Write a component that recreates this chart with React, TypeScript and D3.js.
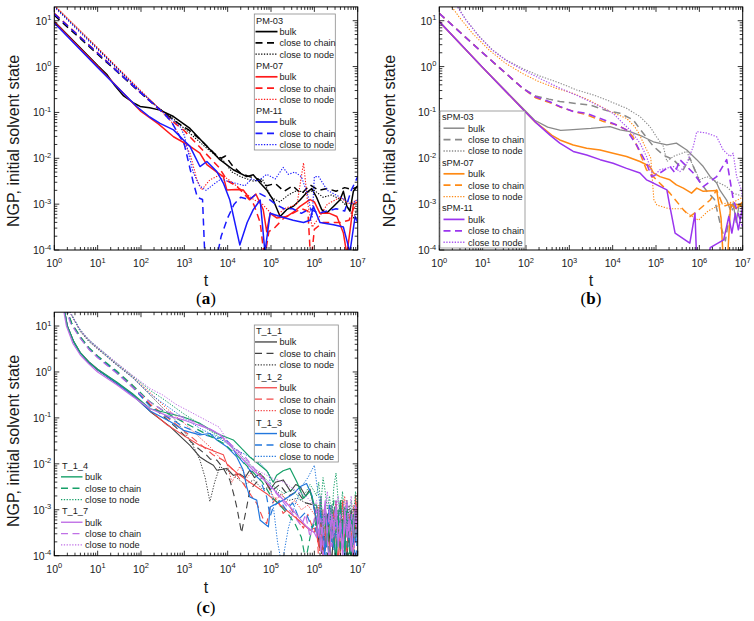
import React from 'react';
import * as d3 from 'd3';

type Pt = [number, number]; // [log10 t, log10 NGP]

// ---------------- Panel (a) ----------------
const PM03_bulk: Pt[] = [[0,0.98],[1.0,0.02],[1.22,-0.18],[1.4,-0.42],[1.6,-0.64],[1.84,-0.8],[1.98,-0.87],[2.2,-0.9],[2.44,-0.95],[2.75,-1.09],[3.13,-1.35],[3.52,-1.74],[3.82,-2.03],[4.13,-2.25],[4.44,-2.4],[4.59,-2.36],[4.75,-2.54],[4.9,-2.69],[5.05,-2.91],[5.21,-3.27],[5.36,-3.12],[5.51,-3.05],[5.67,-2.91],[5.82,-2.75],[5.94,-2.66],[6.05,-2.85],[6.17,-3.12],[6.28,-3.2],[6.44,-3.05],[6.59,-2.91],[6.67,-2.72],[6.75,-3.05],[6.82,-3.15],[6.9,-2.72],[7.0,-2.6]];
const PM03_chain: Pt[] = [[0,1.12],[1.0,0.27],[2.0,-0.58],[2.5,-0.98],[2.8,-1.2],[3.1,-1.38],[3.4,-1.62],[3.7,-1.9],[3.85,-2.0],[3.95,-1.95],[4.1,-2.15],[4.3,-2.33],[4.5,-2.4],[4.7,-2.45],[4.9,-2.6],[5.1,-2.55],[5.3,-2.72],[5.5,-2.6],[5.7,-2.78],[5.9,-2.58],[6.1,-2.7],[6.3,-2.66],[6.5,-2.72],[6.7,-2.64],[6.85,-2.68],[7.0,-2.62]];
const PM03_node: Pt[] = [[0,1.32],[1.0,0.39],[2.0,-0.55],[2.4,-0.9],[2.7,-1.1],[3.0,-1.35],[3.3,-1.6],[3.6,-1.85],[3.9,-2.05],[4.1,-2.3],[4.3,-2.4],[4.6,-2.5],[4.8,-2.45],[5.0,-2.85],[5.2,-2.95],[5.4,-2.8],[5.6,-2.7],[5.8,-2.75],[6.0,-2.7],[6.2,-2.85],[6.4,-2.8],[6.6,-2.9],[6.8,-3.1],[6.9,-3.3],[7.0,-3.1]];
const PM07_bulk: Pt[] = [[0,0.97],[1.0,0.0],[2.0,-0.98],[2.4,-1.25],[2.75,-1.53],[3.1,-1.72],[3.36,-1.89],[3.52,-2.14],[3.75,-2.3],[3.9,-2.4],[3.98,-2.69],[4.2,-2.68],[4.36,-2.69],[4.52,-2.9],[4.65,-2.78],[4.82,-3.12],[4.9,-3.6],[4.98,-3.2],[5.13,-3.3],[5.36,-3.27],[5.55,-3.15],[5.67,-3.05],[5.9,-2.9],[6.0,-2.95],[6.13,-3.2],[6.35,-3.2],[6.52,-3.27],[6.67,-3.63],[6.75,-4.1],[6.82,-3.6],[6.9,-3.0],[7.0,-2.95]];
const PM07_chain: Pt[] = [[0,1.16],[1.0,0.3],[2.0,-0.58],[2.5,-1.0],[2.8,-1.25],[3.0,-1.4],[3.3,-1.7],[3.6,-2.0],[3.8,-2.2],[4.0,-2.5],[4.2,-2.6],[4.4,-2.8],[4.6,-3.0],[4.75,-3.4],[4.85,-4.2],[4.95,-3.6],[5.1,-3.5],[5.3,-3.3],[5.5,-3.2],[5.7,-3.1],[5.85,-3.15],[5.92,-4.3],[6.0,-3.55],[6.2,-3.4],[6.4,-3.4],[6.6,-3.4],[6.8,-3.35],[6.9,-3.1],[7.0,-3.0]];
const PM07_node: Pt[] = [[0,1.34],[1.0,0.41],[2.0,-0.53],[2.4,-0.9],[2.7,-1.2],[2.9,-1.53],[3.13,-1.89],[3.29,-2.47],[3.4,-2.69],[3.59,-2.47],[3.82,-2.36],[4.0,-2.45],[4.2,-2.6],[4.4,-2.75],[4.6,-2.9],[4.8,-3.0],[5.0,-3.2],[5.13,-3.27],[5.3,-3.1],[5.45,-3.05],[5.6,-3.0],[5.75,-2.1],[5.85,-3.0],[5.95,-3.5],[6.1,-3.3],[6.3,-3.0],[6.5,-2.9],[6.6,-2.85],[6.8,-3.0],[7.0,-2.9]];
const PM11_bulk: Pt[] = [[0,0.95],[1.0,-0.02],[1.9,-0.87],[2.2,-1.1],[2.44,-1.24],[2.75,-1.38],[2.98,-1.6],[3.13,-1.74],[3.36,-2.18],[3.52,-2.07],[3.75,-2.29],[3.9,-2.54],[4.05,-2.91],[4.28,-3.89],[4.45,-3.4],[4.59,-3.12],[4.75,-2.91],[4.86,-4.05],[4.98,-3.2],[5.21,-3.27],[5.51,-3.35],[5.75,-3.4],[5.9,-3.35],[5.98,-3.05],[6.13,-3.4],[6.44,-3.45],[6.67,-3.5],[6.82,-4.05],[6.94,-3.27],[7.0,-3.4]];
const PM11_chain: Pt[] = [[0,1.15],[1.0,0.29],[2.0,-0.58],[2.5,-1.0],[2.7,-1.2],[2.85,-1.45],[3.0,-1.7],[3.1,-2.1],[3.2,-2.5],[3.3,-2.85],[3.42,-2.9],[3.48,-4.3],[3.72,-4.3],[3.85,-3.7],[4.0,-3.3],[4.15,-3.0],[4.3,-2.85],[4.5,-2.9],[4.7,-2.75],[4.9,-2.85],[5.1,-3.0],[5.3,-3.1],[5.5,-3.1],[5.7,-3.2],[5.9,-3.1],[6.1,-3.2],[6.3,-3.15],[6.5,-3.1],[6.7,-3.15],[6.85,-2.7],[7.0,-2.4]];
const PM11_node: Pt[] = [[0,1.3],[1.0,0.37],[2.0,-0.55],[2.45,-0.95],[2.7,-1.15],[2.9,-1.3],[3.0,-1.5],[3.1,-1.9],[3.2,-2.3],[3.35,-2.6],[3.5,-2.7],[3.7,-2.55],[3.85,-2.45],[4.0,-2.5],[4.2,-2.55],[4.4,-2.6],[4.55,-2.45],[4.7,-2.5],[4.9,-2.35],[5.1,-2.45],[5.28,-2.2],[5.4,-2.35],[5.55,-2.3],[5.7,-2.4],[5.85,-2.8],[5.95,-3.3],[6.0,-2.4],[6.1,-2.4],[6.3,-2.7],[6.5,-2.8],[6.7,-2.9],[6.85,-3.0],[7.0,-2.9]];

// ---------------- Panel (b) ----------------
const sPM03_bulk: Pt[] = [[0,0.98],[1.0,-0.02],[2.0,-0.98],[2.2,-1.17],[2.5,-1.32],[2.8,-1.39],[3.0,-1.38],[3.5,-1.35],[3.94,-1.31],[4.17,-1.38],[4.4,-1.42],[4.7,-1.53],[4.94,-1.64],[5.25,-1.71],[5.47,-1.67],[5.71,-1.82],[5.94,-2.03],[6.09,-2.18],[6.25,-2.4],[6.4,-2.54],[6.47,-2.69],[6.63,-2.91],[6.71,-3.12],[6.78,-2.98],[6.85,-3.4],[6.92,-3.0],[7.0,-3.1]];
const sPM03_chain: Pt[] = [[0,1.16],[1.0,0.3],[1.92,-0.47],[2.22,-0.64],[2.53,-0.71],[2.78,-0.76],[3.1,-0.8],[3.48,-0.84],[3.86,-0.96],[4.17,-1.02],[4.47,-1.16],[4.7,-1.45],[4.94,-1.74],[5.17,-1.93],[5.4,-2.03],[5.63,-2.25],[5.78,-1.99],[6.0,-2.5],[6.2,-2.75],[6.35,-2.9],[6.5,-3.5],[6.6,-3.8],[6.7,-3.2],[6.85,-3.0],[7.0,-3.05]];
const sPM03_node: Pt[] = [[0.25,1.55],[0.61,1.03],[0.92,0.66],[1.22,0.37],[1.53,0.15],[1.92,-0.04],[2.3,-0.2],[2.78,-0.36],[3.17,-0.51],[3.56,-0.62],[3.94,-0.76],[4.32,-0.91],[4.63,-1.09],[4.86,-1.31],[5.01,-1.53],[5.17,-1.74],[5.25,-2.07],[5.4,-1.96],[5.71,-1.85],[5.86,-2.18],[6.01,-2.47],[6.17,-2.4],[6.4,-2.51],[6.63,-2.62],[6.78,-2.76],[7.0,-2.83]];
const sPM07_bulk: Pt[] = [[0,0.98],[1.0,-0.02],[2.0,-1.0],[2.2,-1.2],[2.41,-1.35],[2.6,-1.5],[2.78,-1.6],[3.09,-1.71],[3.4,-1.78],[3.71,-1.82],[4.01,-1.89],[4.32,-1.96],[4.63,-2.07],[4.86,-2.18],[4.94,-2.32],[5.09,-2.4],[5.32,-2.47],[5.47,-2.58],[5.63,-2.65],[5.82,-2.76],[5.94,-2.65],[6.09,-2.72],[6.4,-2.7],[6.5,-3.3],[6.55,-4.2],[6.65,-4.2],[6.72,-3.0],[6.85,-3.1],[7.0,-2.95]];
const sPM07_chain: Pt[] = [[0,1.16],[1.0,0.3],[1.92,-0.47],[2.22,-0.68],[2.53,-0.78],[2.78,-0.88],[3.1,-0.98],[3.4,-1.05],[3.79,-1.2],[4.09,-1.27],[4.32,-1.38],[4.47,-1.53],[4.63,-1.89],[4.78,-2.25],[5.01,-2.47],[5.32,-2.76],[5.63,-3.12],[5.78,-3.27],[5.94,-3.16],[6.25,-2.91],[6.4,-2.69],[6.55,-3.05],[6.78,-2.98],[7.0,-3.05]];
const sPM07_node: Pt[] = [[0.1,1.55],[0.45,1.09],[0.76,0.73],[1.15,0.36],[1.53,0.07],[1.92,-0.15],[2.3,-0.33],[2.69,-0.47],[3.07,-0.58],[3.45,-0.73],[3.94,-0.98],[4.32,-1.13],[4.5,-1.3],[4.6,-1.45],[4.75,-1.75],[4.88,-2.0],[4.95,-2.9],[5.02,-3.02],[5.3,-3.1],[5.6,-3.1],[5.8,-3.25],[5.98,-3.35],[6.2,-3.15],[6.5,-3.0],[6.8,-2.95],[7.0,-2.85]];
const sPM11_bulk: Pt[] = [[0,0.98],[1.0,-0.02],[2.0,-1.0],[2.25,-1.24],[2.56,-1.5],[2.78,-1.67],[3.09,-1.85],[3.4,-1.93],[3.71,-2.03],[4.01,-2.11],[4.32,-2.22],[4.63,-2.32],[4.78,-2.47],[4.94,-2.54],[5.25,-2.69],[5.32,-3.05],[5.44,-3.63],[5.78,-3.85],[5.9,-3.2],[5.94,-4.3],[6.2,-4.3],[6.25,-3.95],[6.56,-3.78],[6.68,-3.27],[6.75,-3.63],[6.83,-3.2],[6.9,-3.56],[7.0,-3.05]];
const sPM11_chain: Pt[] = [[0,1.16],[1.0,0.3],[1.92,-0.47],[2.22,-0.66],[2.53,-0.76],[2.78,-0.87],[3.09,-0.98],[3.4,-1.02],[3.79,-1.16],[4.01,-1.24],[4.32,-1.38],[4.55,-1.71],[4.78,-2.11],[4.9,-2.4],[5.09,-2.32],[5.32,-2.18],[5.44,-2.32],[5.55,-2.03],[5.86,-2.32],[6.09,-2.62],[6.4,-2.4],[6.63,-2.03],[6.78,-2.89],[6.94,-3.33],[7.0,-3.5]];
const sPM11_node: Pt[] = [[0.25,1.55],[0.61,1.02],[0.92,0.65],[1.22,0.36],[1.53,0.14],[1.92,-0.07],[2.3,-0.25],[2.78,-0.47],[3.25,-0.66],[3.71,-0.87],[4.01,-1.02],[4.24,-1.24],[4.4,-1.38],[4.63,-1.67],[4.78,-1.96],[4.94,-2.4],[5.09,-2.25],[5.4,-2.18],[5.55,-2.29],[5.71,-2.11],[5.86,-1.74],[5.94,-1.42],[6.17,-1.45],[6.4,-1.53],[6.55,-1.82],[6.71,-1.96],[6.78,-1.89],[6.86,-2.4],[6.97,-2.69],[7.0,-2.9]];

// ---------------- Panel (c) ----------------
const c_T11_bulk: Pt[] = [[0.22,1.42],[0.3,1.0],[0.45,0.65],[0.6,0.41],[0.8,0.2],[1.0,0.04],[1.44,-0.25],[1.8,-0.5],[2.21,-0.86],[2.67,-1.19],[3.13,-1.6],[3.36,-1.85],[3.52,-1.95],[3.67,-2.03],[3.75,-2.14],[3.98,-2.1],[4.13,-2.25],[4.28,-2.22],[4.4,-2.3],[4.51,-2.14],[4.62,-2.3],[4.75,-2.21],[4.88,-2.4],[4.98,-2.57],[5.1,-2.4],[5.28,-2.35],[5.45,-2.6],[5.57,-2.45],[5.67,-2.5],[5.8,-2.7],[5.9,-2.55],[6.0,-3.0]];
const c_T11_chain: Pt[] = [[0.26,1.42],[0.4,1.05],[0.6,0.74],[0.8,0.5],[1.0,0.32],[1.44,-0.02],[1.8,-0.33],[2.21,-0.72],[2.5,-0.95],[2.8,-1.2],[3.0,-1.38],[3.3,-1.65],[3.5,-1.8],[3.6,-1.9],[3.75,-1.92],[3.9,-2.1],[4.05,-2.35],[4.15,-2.7],[4.21,-2.94],[4.32,-3.5],[4.44,-2.94],[4.51,-2.57],[4.67,-2.4],[4.82,-2.28],[5.0,-2.6],[5.2,-2.45],[5.4,-2.7],[5.6,-2.6],[5.8,-2.85],[6.0,-2.9]];
const c_T11_node: Pt[] = [[0.3,1.42],[0.45,1.14],[0.6,0.88],[0.8,0.66],[1.0,0.5],[1.44,0.15],[1.8,-0.12],[2.21,-0.5],[2.5,-0.78],[2.8,-1.05],[3.0,-1.3],[3.2,-1.6],[3.36,-1.92],[3.48,-2.3],[3.59,-2.82],[3.7,-2.4],[3.82,-2.06],[4.0,-2.15],[4.2,-2.3],[4.4,-2.45],[4.6,-2.35],[4.8,-2.55],[5.0,-2.5],[5.2,-2.65],[5.4,-2.8],[5.6,-2.75],[5.8,-2.85],[6.0,-2.9]];
const c_T12_bulk: Pt[] = [[0.22,1.42],[0.3,1.0],[0.45,0.66],[0.6,0.42],[0.8,0.22],[1.0,0.06],[1.44,-0.23],[1.8,-0.48],[2.21,-0.84],[2.6,-1.15],[2.98,-1.38],[3.36,-1.6],[3.75,-1.75],[3.9,-1.8],[3.98,-2.0],[4.21,-2.2],[4.51,-2.4],[4.9,-2.65],[5.28,-2.95],[5.67,-3.25],[5.9,-3.45],[6.0,-3.4]];
const c_T12_chain: Pt[] = [[0.26,1.42],[0.4,1.06],[0.6,0.76],[0.8,0.52],[1.0,0.34],[1.44,0.0],[1.8,-0.3],[2.21,-0.7],[2.82,-1.15],[3.21,-1.45],[3.44,-1.63],[3.67,-1.81],[3.9,-1.92],[4.13,-2.14],[4.36,-2.43],[4.55,-2.7],[4.67,-2.86],[4.82,-3.2],[4.9,-3.3],[4.98,-2.94],[5.13,-2.72],[5.28,-3.08],[5.44,-2.94],[5.6,-3.2],[5.75,-3.4],[5.85,-3.1],[6.0,-3.5]];
const c_T12_node: Pt[] = [[0.3,1.42],[0.45,1.15],[0.6,0.9],[0.8,0.68],[1.0,0.52],[1.44,0.17],[1.8,-0.1],[2.21,-0.45],[2.6,-0.8],[2.98,-1.1],[3.3,-1.38],[3.59,-1.63],[3.8,-1.85],[3.98,-1.99],[4.1,-2.4],[4.2,-2.2],[4.28,-2.06],[4.45,-2.3],[4.59,-2.14],[4.82,-2.28],[4.98,-2.57],[5.1,-2.8],[5.25,-2.65],[5.4,-2.9],[5.55,-2.8],[5.7,-3.0],[5.85,-2.9],[6.0,-3.1]];
const c_T13_bulk: Pt[] = [[0.22,1.42],[0.3,1.0],[0.45,0.65],[0.6,0.41],[0.8,0.21],[1.0,0.05],[1.44,-0.24],[1.8,-0.5],[2.21,-0.85],[2.67,-1.08],[2.98,-1.27],[3.36,-1.37],[3.59,-1.34],[3.75,-1.48],[3.98,-1.63],[4.21,-1.85],[4.36,-2.14],[4.44,-2.5],[4.51,-2.72],[4.67,-2.79],[4.75,-3.23],[4.94,-3.37],[4.98,-2.94],[5.28,-2.79],[5.52,-2.65],[5.67,-2.5],[5.82,-2.43],[5.95,-2.7],[6.0,-3.0]];
const c_T13_chain: Pt[] = [[0.26,1.42],[0.4,1.05],[0.6,0.75],[0.8,0.51],[1.0,0.33],[1.44,-0.01],[1.8,-0.32],[2.21,-0.75],[2.98,-1.19],[3.36,-1.34],[3.75,-1.45],[3.9,-1.41],[4.05,-1.56],[4.21,-1.81],[4.44,-2.06],[4.59,-2.21],[4.75,-2.35],[4.9,-2.72],[4.98,-3.15],[5.05,-2.94],[5.2,-2.8],[5.35,-3.0],[5.5,-2.85],[5.65,-3.2],[5.8,-3.05],[5.95,-3.4],[6.0,-3.3]];
const c_T13_node: Pt[] = [[0.3,1.42],[0.45,1.15],[0.6,0.9],[0.8,0.68],[1.0,0.52],[1.44,0.16],[1.8,-0.11],[2.21,-0.48],[2.98,-1.0],[3.4,-1.25],[3.75,-1.41],[4.21,-1.7],[4.51,-1.85],[4.75,-1.99],[4.95,-2.2],[5.05,-2.9],[5.15,-3.7],[5.25,-4.2],[5.4,-3.4],[5.55,-2.9],[5.7,-2.5],[5.85,-2.3],[6.0,-2.03]];
const c_T14_bulk: Pt[] = [[0.22,1.42],[0.3,1.0],[0.45,0.66],[0.6,0.42],[0.8,0.22],[1.0,0.06],[1.44,-0.22],[1.8,-0.47],[2.21,-0.8],[2.98,-0.98],[3.36,-1.12],[3.75,-1.34],[4.13,-1.48],[4.36,-1.7],[4.51,-1.85],[4.67,-1.97],[4.9,-2.15],[5.05,-2.4],[5.13,-2.25],[5.28,-2.15],[5.44,-2.1],[5.6,-2.4],[5.75,-2.75],[5.9,-2.6],[6.0,-2.9]];
const c_T14_chain: Pt[] = [[0.26,1.42],[0.4,1.07],[0.6,0.77],[0.8,0.53],[1.0,0.35],[1.44,0.02],[1.8,-0.28],[2.21,-0.65],[2.6,-0.9],[3.0,-1.1],[3.5,-1.35],[3.9,-1.55],[4.2,-1.8],[4.4,-2.0],[4.6,-2.2],[4.8,-2.4],[5.0,-2.7],[5.2,-2.9],[5.4,-3.1],[5.55,-3.3],[5.7,-3.6],[5.8,-4.1],[5.9,-3.6],[6.0,-3.2]];
const c_T14_node: Pt[] = [[0.3,1.42],[0.45,1.17],[0.6,0.92],[0.8,0.7],[1.0,0.54],[1.44,0.19],[1.8,-0.08],[2.21,-0.4],[2.5,-0.58],[3.0,-0.92],[3.5,-1.22],[3.9,-1.48],[4.2,-1.7],[4.4,-1.9],[4.6,-2.1],[4.8,-2.25],[5.0,-2.45],[5.3,-2.65],[5.5,-2.55],[5.7,-2.8],[5.9,-2.45],[6.0,-2.6]];
const c_T17_bulk: Pt[] = [[0.2,1.42],[0.28,1.0],[0.43,0.62],[0.6,0.37],[0.8,0.17],[1.0,0.0],[1.44,-0.28],[1.8,-0.53],[2.21,-0.8],[2.6,-0.95],[3.0,-1.05],[3.3,-1.15],[3.6,-1.25],[3.8,-1.35],[4.0,-1.55],[4.2,-1.75],[4.4,-1.95],[4.6,-2.15],[4.9,-2.4],[5.2,-2.7],[5.5,-3.0],[5.8,-3.35],[6.0,-3.5]];
const c_T17_chain: Pt[] = [[0.24,1.42],[0.38,1.05],[0.6,0.73],[0.8,0.49],[1.0,0.31],[1.44,-0.03],[1.8,-0.33],[2.21,-0.66],[2.5,-0.83],[3.0,-1.0],[3.5,-1.2],[3.8,-1.35],[4.1,-1.6],[4.4,-1.85],[4.7,-2.2],[5.0,-2.5],[5.3,-2.85],[5.5,-3.1],[5.7,-3.35],[5.8,-3.1],[5.9,-3.6],[6.0,-3.2]];
const c_T17_node: Pt[] = [[0.28,1.42],[0.45,1.16],[0.6,0.92],[0.8,0.7],[1.0,0.54],[1.44,0.2],[1.8,-0.07],[2.21,-0.36],[2.5,-0.5],[2.8,-0.7],[3.0,-0.8],[3.3,-0.95],[3.6,-1.1],[3.8,-1.2],[4.0,-1.5],[4.2,-1.7],[4.4,-1.9],[4.6,-2.1],[4.8,-2.2],[5.0,-2.3],[5.3,-2.4],[5.6,-2.6],[5.8,-2.7],[6.0,-2.9]];

// noisy tails of panel (c), log10 t grid and log10 NGP per series
const TAIL_T = [6.05,6.1,6.15,6.2,6.25,6.3,6.35,6.4,6.45,6.5,6.55,6.6,6.65,6.7,6.75,6.8,6.85,6.9,6.95,7.0];
const tail_T11_bulk = [-3.3,-3.7,-3.2,-3.9,-3.4,-3.1,-3.6,-4.2,-3.3,-3.0,-3.5,-3.9,-3.2,-3.6,-4.1,-3.4,-3.0,-3.7,-3.3,-3.6];
const tail_T11_chain = [-3.2,-3.6,-4.2,-3.4,-3.0,-3.5,-3.8,-3.1,-3.6,-4.1,-3.3,-2.9,-3.5,-3.9,-3.2,-3.7,-4.2,-3.3,-3.0,-3.5];
const tail_T11_node = [-2.9,-3.1,-2.8,-3.3,-3.0,-3.2,-2.9,-3.4,-3.1,-2.8,-3.3,-3.6,-3.0,-3.2,-3.5,-2.9,-3.3,-3.7,-3.1,-3.4];
const tail_T12_bulk = [-3.5,-3.8,-3.3,-4.2,-3.6,-3.2,-3.9,-3.4,-3.0,-3.7,-4.1,-3.3,-2.8,-3.6,-3.9,-3.1,-3.5,-4.2,-2.7,-3.3];
const tail_T12_chain = [-3.3,-4.1,-3.6,-3.0,-3.8,-3.4,-4.2,-3.2,-3.6,-2.9,-3.5,-4.0,-3.3,-3.8,-2.8,-3.6,-4.2,-3.1,-3.5,-2.6];
const tail_T12_node = [-3.2,-2.9,-3.5,-3.1,-3.8,-3.3,-2.9,-3.6,-3.2,-2.8,-3.4,-3.9,-3.0,-2.7,-3.5,-3.2,-3.8,-2.9,-3.4,-3.0];
const tail_T13_bulk = [-3.2,-3.6,-3.0,-3.5,-3.9,-3.3,-2.9,-3.7,-3.4,-4.2,-3.1,-3.6,-3.3,-3.9,-3.0,-3.5,-4.1,-3.2,-3.7,-3.4];
const tail_T13_chain = [-3.5,-3.1,-3.8,-3.3,-4.2,-3.6,-3.0,-3.4,-3.9,-3.2,-3.7,-3.0,-3.5,-4.1,-3.3,-3.8,-3.1,-3.6,-4.2,-3.4];
const tail_T13_node = [-2.4,-2.7,-3.0,-3.3,-3.0,-3.4,-3.1,-2.9,-3.3,-3.6,-3.2,-2.9,-3.5,-3.2,-2.8,-3.4,-3.1,-3.6,-3.0,-3.3];
const tail_T14_bulk = [-2.9,-3.3,-2.7,-3.5,-3.1,-3.8,-3.3,-2.9,-3.6,-4.1,-3.2,-2.8,-3.5,-3.9,-3.0,-3.4,-4.2,-3.1,-3.6,-3.3];
const tail_T14_chain = [-3.4,-3.0,-3.7,-3.2,-2.9,-3.6,-4.1,-3.3,-2.8,-3.5,-3.0,-3.9,-3.4,-2.9,-3.7,-4.2,-3.2,-3.6,-3.0,-3.5];
const tail_T14_node = [-2.7,-2.4,-2.9,-2.3,-2.6,-3.0,-2.7,-3.2,-2.5,-2.2,-2.8,-3.1,-2.6,-3.3,-2.9,-3.5,-2.8,-3.2,-2.6,-3.0];
const tail_T17_bulk = [-3.6,-3.0,-3.9,-3.3,-2.8,-3.7,-4.2,-3.1,-3.5,-2.9,-3.8,-3.3,-4.0,-3.0,-3.6,-3.2,-3.9,-3.4,-2.9,-3.7];
const tail_T17_chain = [-3.0,-3.6,-3.2,-4.1,-2.9,-3.5,-3.0,-3.8,-3.3,-2.8,-3.7,-3.1,-3.9,-3.4,-2.8,-3.6,-3.1,-4.2,-3.3,-3.0];
const tail_T17_node = [-2.8,-3.2,-2.7,-3.4,-3.0,-2.6,-3.3,-2.9,-3.6,-3.1,-2.7,-3.4,-3.0,-2.8,-3.5,-3.1,-2.7,-3.3,-3.0,-2.9];

// axes
const X_EXP = [0,1,2,3,4,5,6,7];
const Y_EXP = [-4,-3,-2,-1,0,1];
const Y_MAX = 20;
const LEG_ITEMS = ['bulk', 'close to chain', 'close to node'];

type Kind = 'solid' | 'dash' | 'dot';
interface S { pts: Pt[]; color: string; kind: Kind; w: number }
interface Group { title: string; color: string; colors?: string[]; w: number[] }
interface Legend { x: number; y: number; w: number; h: number; boxed: boolean; first: number; rowH: number; hx: number; sx0: number; sx1: number; tx: number; groups: Group[] }

const withTail = (p: Pt[], tail: number[]): Pt[] => p.concat(TAIL_T.map((t, i) => [t, tail[i]] as Pt));

const dashOf = (k: Kind) => (k === 'dash' ? '7,4.5' : k === 'dot' ? '1.3,1.5' : undefined);

const FONT = "'Liberation Sans', Arial, Helvetica, sans-serif";
const TXT = '#1a1a1a';

interface PanelProps {
  id: string; left: number; right: number; top: number; bottom: number;
  series: S[]; legends: Legend[];
  yTitleX: number; yTitleY: number; tTitleY: number; label: string; labelY: number;
}

function Panel(p: PanelProps) {
  const xs = d3.scaleLog().domain([1, 1e7]).range([p.left, p.right]);
  const ys = d3.scaleLog().domain([1e-4, Y_MAX]).range([p.bottom, p.top]);
  const line = d3.line<Pt>().x(d => xs(Math.pow(10, d[0]))).y(d => ys(Math.pow(10, d[1])));
  const xMinor: number[] = [];
  for (let e = 0; e < 7; e++) for (let k = 2; k <= 9; k++) xMinor.push(k * Math.pow(10, e));
  const yMinor: number[] = [];
  for (let e = -4; e <= 0; e++) for (let k = 2; k <= 9; k++) yMinor.push(k * Math.pow(10, e));
  const cx = (p.left + p.right) / 2;
  const ticks: JSX.Element[] = [];
  X_EXP.forEach(e => {
    const x = xs(Math.pow(10, e));
    ticks.push(<line key={'xb' + e} x1={x} x2={x} y1={p.bottom} y2={p.bottom - 5} />);
    ticks.push(<line key={'xt' + e} x1={x} x2={x} y1={p.top} y2={p.top + 5} />);
  });
  xMinor.forEach((v, i) => {
    const x = xs(v);
    ticks.push(<line key={'xmb' + i} x1={x} x2={x} y1={p.bottom} y2={p.bottom - 3} />);
    ticks.push(<line key={'xmt' + i} x1={x} x2={x} y1={p.top} y2={p.top + 3} />);
  });
  Y_EXP.forEach(e => {
    const y = ys(Math.pow(10, e));
    ticks.push(<line key={'yl' + e} x1={p.left} x2={p.left + 5} y1={y} y2={y} />);
    ticks.push(<line key={'yr' + e} x1={p.right} x2={p.right - 5} y1={y} y2={y} />);
  });
  yMinor.forEach((v, i) => {
    const y = ys(v);
    ticks.push(<line key={'yml' + i} x1={p.left} x2={p.left + 3} y1={y} y2={y} />);
    ticks.push(<line key={'ymr' + i} x1={p.right} x2={p.right - 3} y1={y} y2={y} />);
  });
  return (
    <g>
      <defs>
        <clipPath id={p.id}>
          <rect x={p.left} y={p.top} width={p.right - p.left} height={p.bottom - p.top} />
        </clipPath>
      </defs>
      <g clipPath={`url(#${p.id})`} fill="none" strokeLinejoin="round">
        {p.series.map((s, i) => (
          <path key={i} d={line(s.pts) || ''} stroke={s.color} strokeWidth={s.w} strokeDasharray={dashOf(s.kind)} />
        ))}
      </g>
      <rect x={p.left} y={p.top} width={p.right - p.left} height={p.bottom - p.top} fill="none" stroke="#000" strokeWidth={1} />
      <g stroke="#000" strokeWidth={0.8}>{ticks}</g>
      <g fontFamily={FONT} fill={TXT} fontSize={10.5}>
        {X_EXP.map(e => (
          <text key={'xl' + e} x={xs(Math.pow(10, e))} y={p.bottom + 17} textAnchor="middle">
            10<tspan dy={-4.5} fontSize={7.5}>{e}</tspan>
          </text>
        ))}
        {Y_EXP.map(e => (
          <text key={'yl' + e} x={p.left - 3} y={ys(Math.pow(10, e)) + 4} textAnchor="end">
            10<tspan dy={-4.5} fontSize={7.5}>{e}</tspan>
          </text>
        ))}
      </g>
      <text x={p.yTitleX} y={p.yTitleY} transform={`rotate(-90 ${p.yTitleX} ${p.yTitleY})`} textAnchor="middle" fontFamily={FONT} fontSize={16} fill={TXT}>NGP, initial solvent state</text>
      <text x={cx} y={p.tTitleY} textAnchor="middle" fontFamily={FONT} fontSize={16} fill={TXT}>t</text>
      <text x={cx} y={p.labelY} textAnchor="middle" fontFamily="'Liberation Serif', 'DejaVu Serif', serif" fontSize={17} fill="#000">
        (<tspan fontWeight="bold">{p.label}</tspan>)
      </text>
      {p.legends.map((L, li) => {
        const rows: JSX.Element[] = [];
        let r = 0;
        L.groups.forEach((g, gi) => {
          const yh = L.first + r * L.rowH;
          rows.push(<text key={`h${gi}`} x={L.hx} y={yh + 3.4} fontFamily={FONT} fontSize={9.2} fill={TXT}>{g.title}</text>);
          r++;
          (['solid', 'dash', 'dot'] as Kind[]).forEach((k, ki) => {
            const yy = L.first + r * L.rowH;
            const col = g.colors ? g.colors[ki] : g.color;
            rows.push(<line key={`s${gi}${ki}`} x1={L.sx0} x2={L.sx1} y1={yy} y2={yy} stroke={col} strokeWidth={g.w[ki] + 0.2} strokeDasharray={dashOf(k)} />);
            rows.push(<text key={`t${gi}${ki}`} x={L.tx} y={yy + 3.4} fontFamily={FONT} fontSize={9.2} fill={TXT}>{LEG_ITEMS[ki]}</text>);
            r++;
          });
        });
        return (
          <g key={li}>
            {L.boxed && <rect x={L.x} y={L.y} width={L.w} height={L.h} fill="#fff" stroke="#8a8a8a" strokeWidth={0.8} />}
            {rows}
          </g>
        );
      })}
    </g>
  );
}

const ser = (pts: Pt[], color: string, kind: Kind, w: number): S => ({ pts, color, kind, w });

const C_BLACK = '#000000', C_RED = '#ff1a1a', C_BLUE = '#1a1aff';
const C_GRAY = '#8a8a8a', C_ORANGE = '#ff8a14', C_PURPLE = '#9a35ee';
const C_T11 = '#404040', C_T12 = '#f34848', C_T13 = '#2277dd', C_T14 = '#16a068', C_T17 = '#c070e6';

export default function App() {
  const seriesA: S[] = [
    ser(PM03_bulk, C_BLACK, 'solid', 1.5), ser(PM03_chain, C_BLACK, 'dash', 1.5), ser(PM03_node, C_BLACK, 'dot', 1.1),
    ser(PM07_bulk, C_RED, 'solid', 1.5), ser(PM07_chain, C_RED, 'dash', 1.5), ser(PM07_node, C_RED, 'dot', 1.1),
    ser(PM11_bulk, C_BLUE, 'solid', 1.5), ser(PM11_chain, C_BLUE, 'dash', 1.5), ser(PM11_node, C_BLUE, 'dot', 1.1),
  ];
  const seriesB: S[] = [
    ser(sPM03_bulk, C_GRAY, 'solid', 1.3), ser(sPM03_chain, C_GRAY, 'dash', 1.5), ser(sPM03_node, C_GRAY, 'dot', 1.1),
    ser(sPM07_bulk, C_ORANGE, 'solid', 1.5), ser(sPM07_chain, C_ORANGE, 'dash', 1.5), ser(sPM07_node, C_ORANGE, 'dot', 1.1),
    ser(sPM11_bulk, C_PURPLE, 'solid', 1.5), ser(sPM11_chain, C_PURPLE, 'dash', 1.6), ser(sPM11_node, '#a955f0', 'dot', 1.2),
  ];
  const seriesC: S[] = [
    ser(withTail(c_T11_bulk, tail_T11_bulk), C_T11, 'solid', 1.1),
    ser(withTail(c_T11_chain, tail_T11_chain), C_T11, 'dash', 1.1),
    ser(withTail(c_T11_node, tail_T11_node), C_T11, 'dot', 1.0),
    ser(withTail(c_T12_bulk, tail_T12_bulk), C_T12, 'solid', 1.1),
    ser(withTail(c_T12_chain, tail_T12_chain), C_T12, 'dash', 1.1),
    ser(withTail(c_T12_node, tail_T12_node), C_T12, 'dot', 1.0),
    ser(withTail(c_T13_bulk, tail_T13_bulk), C_T13, 'solid', 1.2),
    ser(withTail(c_T13_chain, tail_T13_chain), C_T13, 'dash', 1.2),
    ser(withTail(c_T13_node, tail_T13_node), C_T13, 'dot', 1.0),
    ser(withTail(c_T14_bulk, tail_T14_bulk), C_T14, 'solid', 1.2),
    ser(withTail(c_T14_chain, tail_T14_chain), C_T14, 'dash', 1.2),
    ser(withTail(c_T14_node, tail_T14_node), C_T14, 'dot', 1.0),
    ser(withTail(c_T17_bulk, tail_T17_bulk), C_T17, 'solid', 1.2),
    ser(withTail(c_T17_chain, tail_T17_chain), C_T17, 'dash', 1.2),
    ser(withTail(c_T17_node, tail_T17_node), C_T17, 'dot', 1.0),
  ];
  const legA: Legend = {
    x: 254.3, y: 14, w: 81, h: 136, boxed: true, first: 20.3, rowH: 11.3, hx: 256, sx0: 255.5, sx1: 277.5, tx: 279.5,
    groups: [
      { title: 'PM-03', color: C_BLACK, w: [1.5, 1.5, 1.1] },
      { title: 'PM-07', color: C_RED, w: [1.5, 1.5, 1.1] },
      { title: 'PM-11', color: C_BLUE, w: [1.5, 1.5, 1.1] },
    ],
  };
  const legB: Legend = {
    x: 440, y: 111, w: 85, h: 137, boxed: true, first: 116.8, rowH: 11.4, hx: 442, sx0: 443.5, sx1: 464.5, tx: 468,
    groups: [
      { title: 'sPM-03', color: C_GRAY, w: [1.3, 1.5, 1.1] },
      { title: 'sPM-07', color: C_ORANGE, w: [1.5, 1.5, 1.1] },
      { title: 'sPM-11', color: C_PURPLE, colors: [C_PURPLE, C_PURPLE, '#a955f0'], w: [1.5, 1.6, 1.2] },
    ],
  };
  const legC1: Legend = {
    x: 254.3, y: 325, w: 84, h: 137, boxed: true, first: 330.5, rowH: 11.45, hx: 256, sx0: 255, sx1: 277, tx: 279.5,
    groups: [
      { title: 'T_1_1', color: C_T11, w: [1.1, 1.1, 1.0] },
      { title: 'T_1_2', color: C_T12, w: [1.1, 1.1, 1.0] },
      { title: 'T_1_3', color: C_T13, w: [1.2, 1.2, 1.0] },
    ],
  };
  const legC2: Legend = {
    x: 60, y: 459, w: 84, h: 91, boxed: false, first: 465.5, rowH: 11.35, hx: 62, sx0: 61, sx1: 82.5, tx: 85,
    groups: [
      { title: 'T_1_4', color: C_T14, w: [1.2, 1.2, 1.0] },
      { title: 'T_1_7', color: C_T17, w: [1.2, 1.2, 1.0] },
    ],
  };
  return (
    <svg width={754} height={621} viewBox="0 0 754 621" style={{ position: 'absolute', left: 0, top: 0, background: '#fff' }}>
      <rect x={0} y={0} width={754} height={621} fill="#fff" />
      <Panel id="clipA" left={54.3} right={357.7} top={6.9} bottom={250} series={seriesA} legends={[legA]}
        yTitleX={19} yTitleY={141} tTitleY={286} label="a" labelY={304} />
      <Panel id="clipB" left={439.3} right={742.7} top={6.9} bottom={250} series={seriesB} legends={[legB]}
        yTitleX={395} yTitleY={141} tTitleY={286} label="b" labelY={304} />
      <Panel id="clipC" left={54.3} right={357.7} top={312.2} bottom={555.7} series={seriesC} legends={[legC1, legC2]}
        yTitleX={19} yTitleY={441} tTitleY={593} label="c" labelY={613} />
    </svg>
  );
}
